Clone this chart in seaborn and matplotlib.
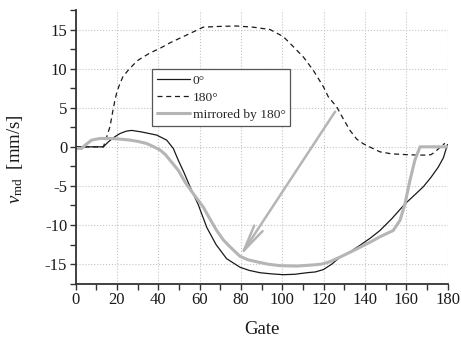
import numpy as np
import pandas as pd
import seaborn as sns
import matplotlib
matplotlib.use("Agg")
import matplotlib.pyplot as plt
from matplotlib.ticker import MultipleLocator

# データ
gate_0 = [0, 5, 10, 13.5, 15.9, 19.1, 21.5, 24.5, 27.2, 32, 39.3, 44.1, 47.3, 49.7,
          52.5, 55.4, 59.4, 63.5, 68, 73.1, 79.6, 84, 89.3, 95, 100.5, 106, 111.9,
          116, 119.9, 124, 128, 133, 137.6, 142.5, 147.3, 153, 159.4, 163.5, 168.3,
          172, 175.5, 178, 179.6, 180]
v_0 = [0, 0, 0, 0, 0.64, 1.3, 1.7, 2.0, 2.1, 1.9, 1.5, 0.86, -0.2, -1.7,
       -3.3, -5.1, -7.4, -10.3, -12.5, -14.3, -15.4, -15.8, -16.1, -16.25, -16.35, -16.3, -16.1,
       -16.0, -15.7, -15.0, -14.1, -13.4, -12.6, -11.7, -10.7, -9.2, -7.3, -6.3, -5.1,
       -3.9, -2.6, -1.4, 0.0, 0.3]

gate_180 = [0, 5, 10, 13.5, 15, 16.7, 18, 19.1, 20, 21.5, 23, 25.5, 28, 30.4, 36,
            40.9, 45.7, 53.8, 61.8, 69.9, 78, 86, 94.1, 100.5, 105.4, 110.2, 115,
            119.9, 122.3, 126.4, 129.5, 132.8, 136, 139.2, 143, 147.3, 153, 160.2,
            165, 170, 172, 174, 175.8, 177.2, 178.8]
v_180 = [0, 0, 0, 0, 1.2, 2.6, 4.5, 6.0, 7.0, 8.1, 9.0, 9.8, 10.5, 11.1, 12.0,
         12.6, 13.3, 14.3, 15.3, 15.4, 15.45, 15.3, 15.0, 14.1, 12.8, 11.5, 9.8,
         7.7, 6.4, 5.1, 3.6, 2.1, 1.0, 0.4, -0.1, -0.64, -0.9, -1.0,
         -1.05, -1.06, -1.0, -0.64, -0.2, 0.2, 0.43]

gate_m = [0, 0.6, 3, 4.6, 7.8, 11.9, 16.7, 21, 26.4, 30, 34.4, 37.5, 40.9, 43.5,
          45.7, 49.7, 53, 57, 61.8, 65, 68.3, 71.5, 74.8, 79.6, 83.5, 87.7, 93, 99,
          107, 115, 119, 123, 128, 135, 142.5, 147.3, 150.5, 153.7, 157, 159.4,
          161.8, 164.2, 166.7, 172, 180]
v_m = [-0.2, -0.2, -0.2, 0.2, 0.86, 1.07, 1.07, 1.0, 0.86, 0.7, 0.43, 0.05, -0.4, -1.0,
       -1.7, -3.0, -4.5, -6.0, -7.7, -9.2, -10.7, -11.9, -12.8, -14.0, -14.45, -14.7, -15.0, -15.2,
       -15.25, -15.1, -15.0, -14.7, -14.1, -13.2, -12.2, -11.5, -11.1, -10.7, -9.4, -7.3,
       -4.3, -1.7, 0, 0, 0]

# 矢印 (180°の点から鏡映位置へ)
arrow_from = (125.6, 4.5)
arrow_to = (79.6, -14.0)

labels = ['0°', '180°', 'mirrored by 180°']

sns.set_theme(style='ticks')
plt.rcParams['font.family'] = ['Liberation Serif', 'DejaVu Serif']
plt.rcParams['mathtext.fontset'] = 'custom'
plt.rcParams['mathtext.rm'] = 'Liberation Serif'
plt.rcParams['mathtext.it'] = 'Liberation Serif:italic'
plt.rcParams['axes.unicode_minus'] = False

fig = plt.figure(figsize=(4.61, 3.38), dpi=100)
ax = fig.add_axes([0.1638, 0.1607, 0.807, 0.8098])

sns.lineplot(x=gate_0, y=v_0, ax=ax, sort=False, estimator=None,
             color='#1a1a1a', lw=0.9, label=labels[0])
sns.lineplot(x=gate_180, y=v_180, ax=ax, sort=False, estimator=None,
             color='#1a1a1a', lw=0.9, linestyle=(0, (4, 3)), label=labels[1])
sns.lineplot(x=gate_m, y=v_m, ax=ax, sort=False, estimator=None,
             color='#b5b5b5', lw=2.2, label=labels[2])

ax.annotate('', xy=arrow_to, xytext=arrow_from,
            arrowprops=dict(arrowstyle='->,head_length=1.6,head_width=0.3',
                            color='#b5b5b5', lw=1.8, shrinkA=0, shrinkB=0))

ax.set_xlim(0, 180)
ax.set_ylim(-17.5, 17.5)
ax.xaxis.set_major_locator(MultipleLocator(20))
ax.xaxis.set_minor_locator(MultipleLocator(10))
ax.yaxis.set_major_locator(MultipleLocator(5))
ax.yaxis.set_minor_locator(MultipleLocator(2.5))
ax.grid(True, which='major', linestyle=':', color='#c4c4c4', lw=0.8)

for s in ['top', 'right']:
    ax.spines[s].set_visible(False)
for s in ['left', 'bottom']:
    ax.spines[s].set_linewidth(1.3)
    ax.spines[s].set_color('#333333')
ax.tick_params(which='both', direction='out', length=4, width=1.0, color='#333333',
               labelsize=12, labelcolor='#1a1a1a', pad=2)

ax.set_xlabel('Gate', fontsize=13.5, color='#1a1a1a')
ax.set_ylabel(r'$v_{\mathrm{md}}$  [mm/s]', fontsize=13.5, color='#1a1a1a')
ax.xaxis.set_label_coords(0.5, -0.135)
ax.yaxis.set_label_coords(-0.136, 0.456)

leg = ax.legend(loc='upper left', bbox_to_anchor=(0.206, 0.783), fontsize=9.7,
                frameon=True, fancybox=False, framealpha=1, edgecolor='#555555',
                handlelength=2.45, handletextpad=0.2, labelspacing=0.35,
                borderpad=0.35, borderaxespad=0)
leg.get_frame().set_linewidth(0.9)

fig.savefig('out.png', dpi=100)
